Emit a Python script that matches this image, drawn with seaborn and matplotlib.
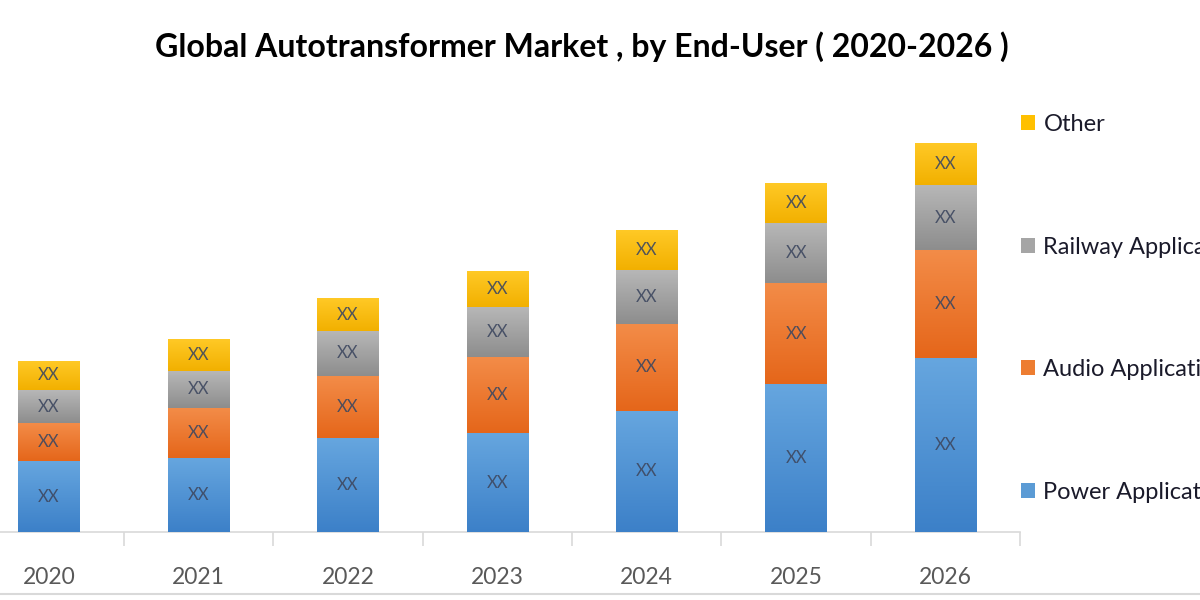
import numpy as np
import pandas as pd
import matplotlib
matplotlib.use("Agg")
import matplotlib.pyplot as plt
import seaborn as sns
from matplotlib.colors import LinearSegmentedColormap
from matplotlib.lines import Line2D
from matplotlib.patches import Patch

# ---- data (arbitrary units) ----
years = ["2020", "2021", "2022", "2023", "2024", "2025", "2026"]
series_names = ["Power Applications", "Audio Applications", "Railway Applications", "Other"]
power = [71, 74, 94, 99, 121, 148, 174]
audio = [38, 50, 62, 76, 87, 101, 108]
railway = [33, 37, 45, 50, 54, 60, 65]
other = [29, 32, 33, 36, 40, 40, 42]
segment_text = "XX"
title = "Global Autotransformer Market , by End-User ( 2020-2026 )"

# ---- style ----
sns.set_theme(style="white")
plt.rcParams['font.family'] = ['Lato', 'DejaVu Sans']

base_colors = ["#5B9BD5", "#ED7D31", "#A5A5A5", "#FFC000"]
grad_colors = [("#3C80C8", "#66A6DF"),   # (bottom, top)
               ("#E5661A", "#F38C48"),
               ("#8D8D8D", "#B7B7B7"),
               ("#F2B000", "#FFC926")]

fig = plt.figure(figsize=(12, 6), dpi=100)
ax = fig.add_axes([-25.75 / 1200, 68 / 600, 1046 / 1200, 432 / 600])

layers = [power, audio, railway, other]
cums = np.cumsum(np.array(layers, dtype=float), axis=0)
df = pd.DataFrame({"Year": years})

# draw cumulative bars from tallest to shortest so each covers the lower part
layer_containers = {}
for i in reversed(range(len(layers))):
    d = df.copy()
    d["cum"] = cums[i]
    n_before = len(ax.containers)
    sns.barplot(data=d, x="Year", y="cum", order=years, color=base_colors[i],
                saturation=1, width=0.41, errorbar=None, ax=ax, linewidth=0)
    layer_containers[i] = ax.containers[n_before]

# gradients and labels per visible segment
for i in range(len(layers)):
    cmap = LinearSegmentedColormap.from_list(f"g{i}", list(grad_colors[i]))
    gradient = np.linspace(0, 1, 256).reshape(-1, 1)
    lower = cums[i - 1] if i > 0 else np.zeros(len(years))
    upper = cums[i]
    for j, p in enumerate(layer_containers[i].patches):
        x0, w = p.get_x(), p.get_width()
        ax.imshow(gradient, cmap=cmap, origin="lower", aspect="auto",
                  extent=(x0, x0 + w, lower[j], upper[j]), zorder=3,
                  interpolation="bilinear")
        ax.text(x0 + w / 2, (lower[j] + upper[j]) / 2, segment_text,
                ha="center", va="center", fontsize=12, color="#3E4860",
                alpha=0.9, zorder=4)

ax.set_xlim(-0.5, len(years) - 0.5)
ax.set_ylim(0, 432)
ax.set_xlabel("")
ax.set_ylabel("")
ax.set_yticks([])
for s in ["left", "right", "top"]:
    ax.spines[s].set_visible(False)
ax.spines["bottom"].set_color("#D9D9D9")
ax.spines["bottom"].set_linewidth(1.2)
ax.set_xticks(range(len(years)), years)
ax.set_xticks(np.arange(-0.5, len(years), 1), minor=True)
ax.tick_params(axis="x", which="major", length=0, pad=25, labelsize=16.5,
               labelcolor="#595959")
ax.tick_params(axis="x", which="minor", bottom=True, length=10, width=1.2,
               color="#D9D9D9", direction="out")
ax.set_facecolor("none")

# legend (reversed order, Other on top)
handles = [Patch(facecolor=base_colors[i], edgecolor="none") for i in reversed(range(4))]
labels = [series_names[i] for i in reversed(range(4))]
fig.legend(handles, labels, loc="upper left",
           bbox_to_anchor=(1021 / 1200, 1 - 114 / 600), frameon=False,
           fontsize=17, handlelength=0.6, handleheight=0.6,
           handletextpad=0.35, labelspacing=4.3, borderpad=0, borderaxespad=0,
           labelcolor="#1A1A2A")

fig.text(582 / 1200, 1 - 47 / 600, title, ha="center", va="center",
         fontsize=23, fontweight="bold", color="#000000")

fig.add_artist(Line2D([0, 1], [1 - 594 / 600] * 2, transform=fig.transFigure,
                      color="#D9D9D9", lw=1.5))

fig.savefig("out.png", dpi=100)
